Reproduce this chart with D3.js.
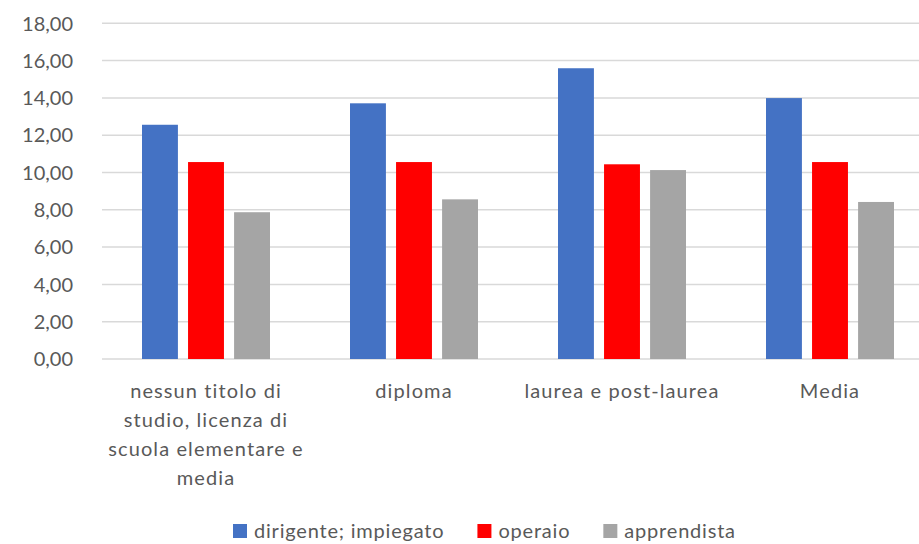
<!DOCTYPE html>
<html>
<head>
<meta charset="utf-8">
<script src="https://cdn.jsdelivr.net/npm/d3@7"></script>
<style>
  body { margin: 0; background: #fff; }
  svg text { fill: #595959; }
  .ytick { font-family: Lato, "Open Sans", sans-serif; font-size: 20px; }
  .cat { font-family: Lato, "Open Sans", sans-serif; font-size: 20px; letter-spacing: 1.1px; }
  .leg { font-family: Lato, "Open Sans", sans-serif; font-size: 20px; letter-spacing: 0.8px; }
</style>
</head>
<body>
<svg id="chart" width="919" height="544"></svg>
<script>
const categories = ['nessun titolo di studio, licenza di scuola elementare e media', 'diploma', 'laurea e post-laurea', 'Media'];
const categoryLines = [
  ['nessun titolo di', 'studio, licenza di', 'scuola elementare e', 'media'],
  ['diploma'],
  ['laurea e post-laurea'],
  ['Media']
];
const seriesNames = ['dirigente; impiegato', 'operaio', 'apprendista'];
const dirigente = [12.56, 13.71, 15.59, 13.99];
const operaio = [10.56, 10.56, 10.44, 10.56];
const apprendista = [7.87, 8.56, 10.13, 8.42];
const yTicks = [0, 2, 4, 6, 8, 10, 12, 14, 16, 18];
const colors = ['#4472C4', '#FF0000', '#A5A5A5'];

const seriesValues = [dirigente, operaio, apprendista];

const svg = d3.select('#chart');
const W = 919;

const x0 = d3.scaleBand()
  .domain(categories)
  .range([102, 934])
  .padding(0);

const x1 = d3.scaleBand()
  .domain(seriesNames)
  .range([40, 168])
  .paddingInner(0.22)
  .paddingOuter(0);

const y = d3.scaleLinear()
  .domain([0, 18])
  .range([359, 23.3]);

const fmt = v => d3.format('.2f')(v).replace('.', ',');

// gridlines
svg.append('g')
  .selectAll('line')
  .data(yTicks)
  .enter()
  .append('line')
  .attr('x1', 102)
  .attr('x2', W)
  .attr('y1', d => y(d))
  .attr('y2', d => y(d))
  .style('stroke', '#d9d9d9')
  .style('stroke-width', 1.5);

// y labels
svg.append('g')
  .selectAll('text')
  .data(yTicks)
  .enter()
  .append('text')
  .attr('class', 'ytick')
  .attr('x', 73)
  .attr('y', d => y(d))
  .attr('dy', '0.36em')
  .attr('text-anchor', 'end')
  .text(fmt);

// bars
const groups = svg.append('g')
  .selectAll('g')
  .data(categories)
  .enter()
  .append('g')
  .attr('transform', d => `translate(${x0(d)},0)`);

groups.selectAll('rect')
  .data((c, i) => seriesNames.map((s, j) => ({ s, j, v: seriesValues[j][i] })))
  .enter()
  .append('rect')
  .attr('x', d => x1(d.s))
  .attr('width', x1.bandwidth())
  .attr('y', d => y(d.v))
  .attr('height', d => y(0) - y(d.v))
  .attr('fill', d => colors[d.j]);

// category labels
const cats = svg.append('g')
  .selectAll('text')
  .data(categories)
  .enter()
  .append('text')
  .attr('class', 'cat')
  .attr('text-anchor', 'middle')
  .attr('x', d => x0(d) + x0.bandwidth() / 2)
  .attr('y', 398);

cats.selectAll('tspan')
  .data((d, i) => categoryLines[i])
  .enter()
  .append('tspan')
  .attr('x', function () { return this.parentNode.getAttribute('x'); })
  .attr('dy', (d, i) => i === 0 ? 0 : 29)
  .text(d => d);

// legend
const legend = svg.append('g').attr('transform', 'translate(233,538)');
let lx = 0;
seriesNames.forEach((name, j) => {
  legend.append('rect')
    .attr('x', lx)
    .attr('y', -14)
    .attr('width', 14)
    .attr('height', 14)
    .attr('fill', colors[j]);
  const t = legend.append('text')
    .attr('class', 'leg')
    .attr('x', lx + 21)
    .attr('y', 0)
    .text(name);
  lx += 21 + t.node().getComputedTextLength() + 33;
});
</script>
</body>
</html>
